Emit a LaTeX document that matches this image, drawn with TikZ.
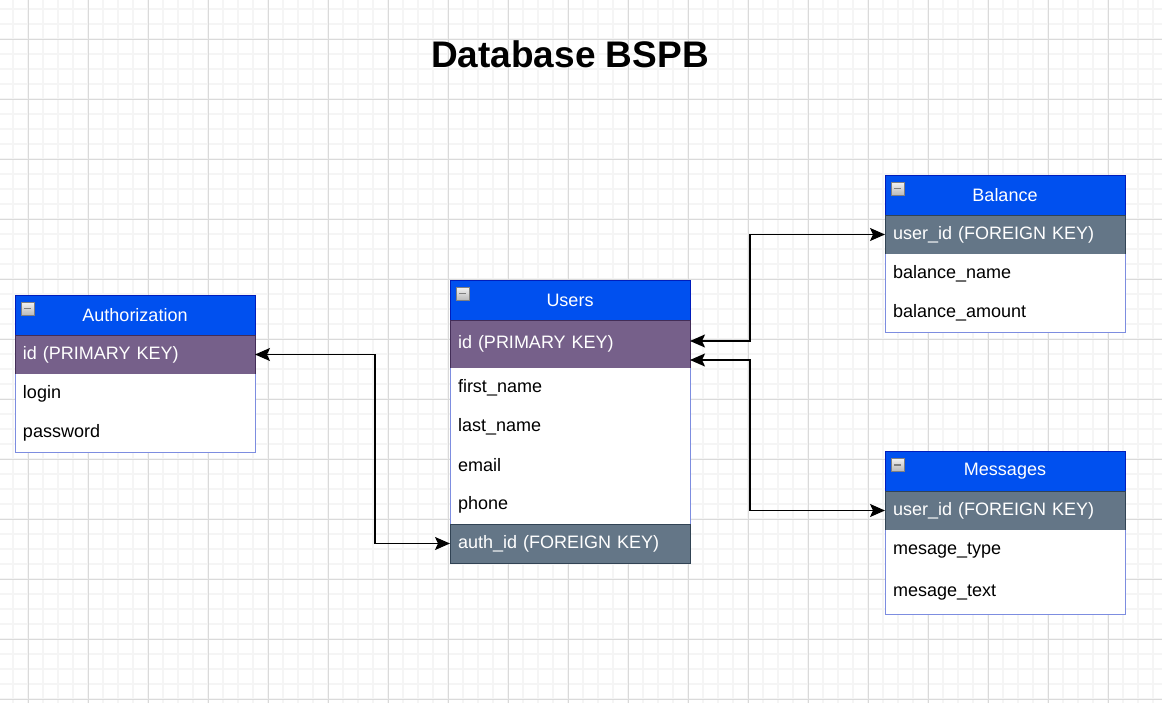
\documentclass[tikz,border=0pt]{standalone}
\usepackage{fontspec}
\setmainfont{Liberation Sans}
\usetikzlibrary{positioning, arrows.meta}

\definecolor{headblue}{HTML}{0050EF}
\definecolor{headline}{HTML}{001DBC}
\definecolor{pkfill}{HTML}{76608A}
\definecolor{pkline}{HTML}{432D57}
\definecolor{fkfill}{HTML}{647687}
\definecolor{fkline}{HTML}{314354}
\definecolor{bodyline}{HTML}{7D8DE0}
\definecolor{gridmajor}{HTML}{DADADA}
\definecolor{gridminor}{HTML}{F5F5F5}

\tikzset{
  row/.style={minimum height=39pt, text width=224pt, inner xsep=8pt, inner ysep=0pt,
    outer sep=0pt, align=left, font=\fontsize{18}{21}\selectfont},
  head/.style={row, align=center, fill=headblue, draw=headline, text=white,
    minimum height=40pt, anchor=north west},
  pkrow/.style={row, fill=pkfill, draw=pkline, text=white},
  fkrow/.style={row, fill=fkfill, draw=fkline, text=white},
  plainrow/.style={row, fill=white},
  collapse/.style={draw=gray, top color=gray!10, bottom color=gray!55, minimum size=13pt,
    inner sep=0pt, anchor=north west,
    path picture={\draw[line width=1.6pt] ([xshift=3pt]path picture bounding box.west)
      -- ([xshift=-3pt]path picture bounding box.east);}},
  link/.style={arrows={Stealth[length=15pt,width=13pt,inset=3pt]-Stealth[length=15pt,width=13pt,inset=3pt]},
    line width=1.5pt},
}

\begin{document}
\begin{tikzpicture}[x=1pt, y=-1pt]
    \useasboundingbox (0,0) rectangle (1162,703);
    % grid
    \foreach \x in {13,28,...,1162} \draw[gridminor, line width=1.1pt] (\x,0) -- (\x,703);
    \foreach \y in {9,24,...,703} \draw[gridminor, line width=1.1pt] (0,\y) -- (1162,\y);
    \foreach \x in {28,88,...,1162} \draw[gridmajor, line width=0.9pt] (\x,0) -- (\x,703);
    \foreach \y in {39,99,...,703} \draw[gridmajor, line width=0.9pt] (0,\y) -- (1162,\y);

    \node[font=\bfseries\fontsize{37}{37}\selectfont] (title) at (570,54) {Database BSPB};

    % Authorization
    \node[head] (auth-head) at (15,295) {Authorization};
    \node[pkrow, below=0pt of auth-head] (auth-id) {id (PRIMARY KEY)};
    \node[plainrow, below=0pt of auth-id] (auth-login) {login};
    \node[plainrow, below=0pt of auth-login] (auth-pass) {password};
    \draw[bodyline] (auth-id.south west) -- (auth-pass.south west) -- (auth-pass.south east) -- (auth-id.south east);

    % Users
    \node[head] (users-head) at (450,280) {Users};
    \node[pkrow, minimum height=48pt, below=0pt of users-head] (users-id) {id (PRIMARY KEY)};
    \node[plainrow, below=0pt of users-id] (users-first) {first\_name};
    \node[plainrow, below=0pt of users-first] (users-last) {last\_name};
    \node[plainrow, below=0pt of users-last] (users-email) {email};
    \node[plainrow, below=0pt of users-email] (users-phone) {phone};
    \node[fkrow, below=0pt of users-phone] (users-auth) {auth\_id (FOREIGN KEY)};
    \draw[bodyline] (users-id.south west) -- (users-auth.north west)
        (users-id.south east) -- (users-auth.north east);

    % Balance
    \node[head] (bal-head) at (885,175) {Balance};
    \node[fkrow, below=0pt of bal-head] (bal-uid) {user\_id (FOREIGN KEY)};
    \node[plainrow, below=0pt of bal-uid] (bal-name) {balance\_name};
    \node[plainrow, below=0pt of bal-name] (bal-amount) {balance\_amount};
    \draw[bodyline] (bal-uid.south west) -- (bal-amount.south west) -- (bal-amount.south east) -- (bal-uid.south east);

    % Messages
    \node[head] (msg-head) at (885,451) {Messages};
    \node[fkrow, below=0pt of msg-head] (msg-uid) {user\_id (FOREIGN KEY)};
    \node[plainrow, minimum height=42pt, below=0pt of msg-uid] (msg-type) {mesage\_type};
    \node[plainrow, minimum height=42pt, below=0pt of msg-type] (msg-text) {mesage\_text};
    \draw[bodyline] (msg-uid.south west) -- (msg-text.south west) -- (msg-text.south east) -- (msg-uid.south east);

    % collapse icons
    \foreach \t in {auth, users, bal, msg}
        \node[collapse] (\t-min) at ([shift={(6pt,-7pt)}]\t-head.north west) {};

    % relations
    \draw[link] (auth-id.east) -- ++(120,0) |- (users-auth.west);
    \draw[link] ([yshift=3pt]users-id.east) -- ++(60,0) |- (bal-uid.west);
    \draw[link] ([yshift=-16pt]users-id.east) -- ++(60,0) |- (msg-uid.west);
\end{tikzpicture}
\end{document}
